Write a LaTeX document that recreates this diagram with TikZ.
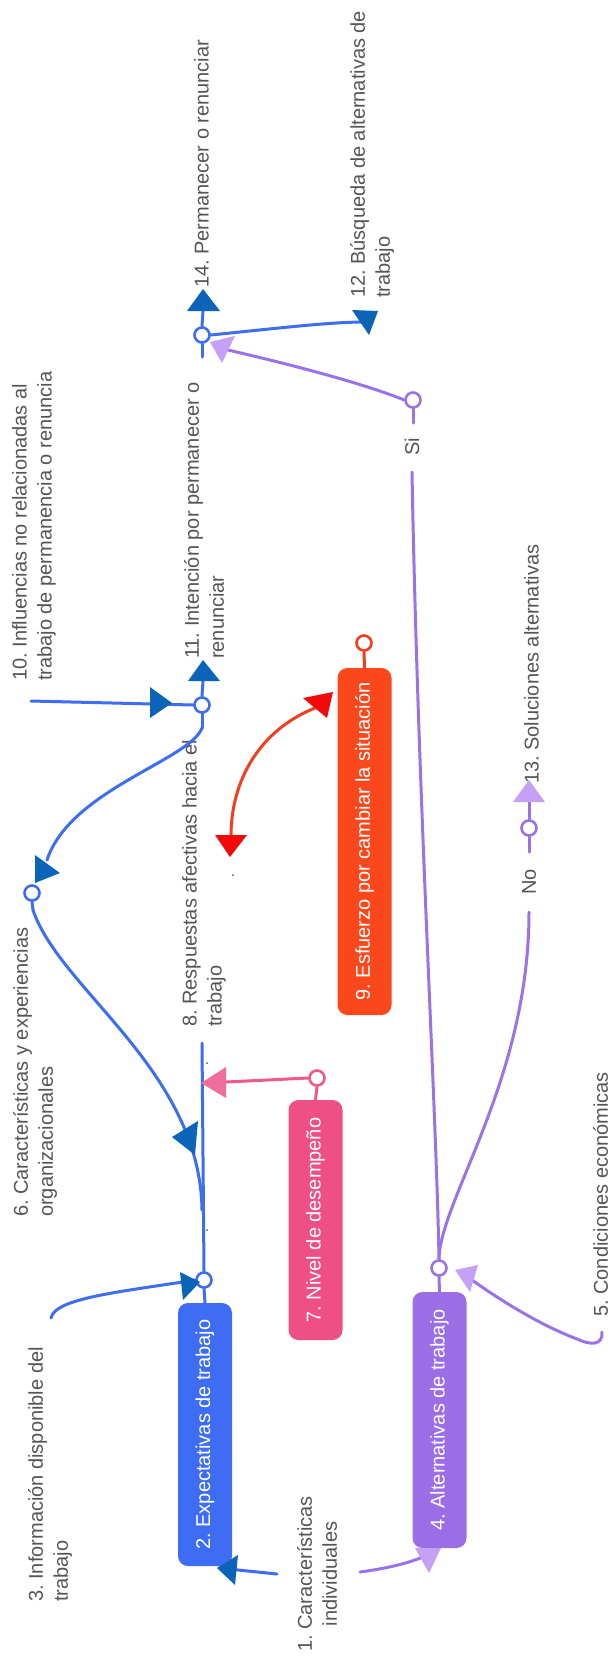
\documentclass[tikz,border=0pt]{standalone}
\usepackage{fontspec}
\setmainfont{Liberation Sans}
\frenchspacing
\definecolor{blueline}{RGB}{61,110,240}
\definecolor{bluetip}{RGB}{12,100,185}
\definecolor{bluebox}{RGB}{62,108,242}
\definecolor{purpline}{RGB}{155,115,232}
\definecolor{purptip}{RGB}{196,160,246}
\definecolor{purpbox}{RGB}{156,110,230}
\definecolor{pinkline}{RGB}{238,88,140}
\definecolor{pinktip}{RGB}{240,110,155}
\definecolor{pinkbox}{RGB}{238,80,134}
\definecolor{redline}{RGB}{240,62,30}
\definecolor{redtip}{RGB}{242,10,10}
\definecolor{redbox}{RGB}{250,72,28}
\definecolor{txtgray}{RGB}{85,85,85}
\begin{document}
\begin{tikzpicture}[x=1pt,y=-1pt,
  lbl/.style={inner sep=0pt, rotate=90, text=txtgray, font=\fontsize{20}{25}\selectfont\frenchspacing, align=left, anchor=north west},
  boxnode/.style={rotate=90, rounded corners=10pt, inner sep=0pt, text=white, font=\fontsize{20}{25}\selectfont\frenchspacing, minimum height=54pt},
  ring/.style={circle, draw, fill=white, line width=2.6pt, minimum size=15pt, inner sep=0pt},
  conn/.style={line width=3pt, line cap=round},
  speck/.style={fill=txtgray, inner sep=0pt, minimum size=2pt, circle}
]
\useasboundingbox (0,0) rectangle (613,1660);
\fill[white] (0,0) rectangle (613,1660);

% ---------- boxes ----------
\node[boxnode, fill=bluebox, minimum width=263pt] (b2) at (205,1434.5) {2. Expectativas de trabajo};
\node[boxnode, fill=purpbox, minimum width=256pt] (b4) at (439.5,1420) {4. Alternativas de trabajo};
\node[boxnode, fill=pinkbox, minimum width=240pt] (b7) at (315.5,1220) {7. Nivel de desempeño};
\node[boxnode, fill=redbox, minimum width=347pt] (b9) at (364.5,841.5) {9. Esfuerzo por cambiar la situación};

% ---------- labels ----------
\node[lbl, align=center, anchor=north] (l1) at (297,1574) {1. Características\\individuales};
\node[lbl] (l3) at (28,1602) {3. Información disponible del\\trabajo};
\node[lbl] (l5) at (593,1317) {5. Condiciones económicas};
\node[lbl] (l6) at (13,1217) {6. Características y experiencias\\organizacionales};
\node[lbl] (l8) at (182,1027) {8. Respuestas afectivas hacia el\\trabajo};
\node[lbl] (l10) at (12,681) {10. Influencias no relacionadas al\\trabajo de permanencia o renuncia};
\node[lbl] (l11) at (184,659) {11. Intención por permanecer o\\renunciar};
\node[lbl] (l12) at (350,298) {12. Búsqueda de alternativas de\\trabajo};
\node[lbl] (l13) at (524,784) {13. Soluciones alternativas};
\node[lbl] (l14) at (194,288) {14. Permanecer o renunciar};
\node[lbl, anchor=center] (si) at (412,447) {Si};
\node[lbl, anchor=center] (no) at (529,882) {No};

% ---------- named points ----------
\coordinate (s1a) at (277,1574);
\coordinate (s1b) at (360,1572);
\coordinate (s3) at (51,1318);
\coordinate (s5) at (602,1332);
\coordinate (s10) at (31,701);
\coordinate (n8) at (202,1043);
\coordinate (j8) at (202,1210);
\coordinate (c6s) at (33,910);
\coordinate (c11s) at (202,728);
\coordinate (c11t) at (203,681);
\coordinate (c14s) at (202,357);
\coordinate (c14t) at (203,311);
\coordinate (e12) at (365,322);
\coordinate (e14) at (228,350);
\coordinate (siS) at (413,423);
\coordinate (siL) at (412,472);
\coordinate (noL) at (529,912);
\coordinate (c13s) at (529,852);
\coordinate (c13t) at (529,802);
\coordinate (e6) at (47,860);
\coordinate (e4) at (425,1556);
\coordinate (e5) at (472,1280);
\coordinate (e8p) at (226,1082);
\coordinate (r1) at (315,708);
\coordinate (r2) at (231,836);

% ---------- rings ----------
\node[ring, draw=blueline] (c2) at (204,1280) {};
\node[ring, draw=blueline] (c6) at (32,893) {};
\node[ring, draw=blueline] (c11) at (202,705) {};
\node[ring, draw=blueline] (c14) at (202,335) {};
\node[ring, draw=purpline] (c4) at (439,1268) {};
\node[ring, draw=purpline] (csi) at (413,400) {};
\node[ring, draw=purpline] (c13) at (529,828) {};
\node[ring, draw=pinkline] (c7) at (317,1078) {};
\node[ring, draw=redline] (c9) at (364,643) {};

% ---------- blue connectors ----------
\begin{scope}[conn, draw=blueline]
\draw (s1a) -- (219,1568);
\draw (s3) .. controls (55,1298) and (120,1292) .. (c2.west);
\draw (c2.south) -- (b2.east);
\draw (c2.north) -- (n8);
\draw (c6.south) -- (c6s);
\draw (c6s) .. controls (60,990) and (200,1070) .. (j8);
\draw (c11.south) -- (c11s);
\draw (c11s) .. controls (190,760) and (70,790) .. (e6);
\draw (s10) -- (c11.west);
\draw (c11.north) -- (c11t);
\draw (c14.south) -- (c14s);
\draw (c14.north) -- (c14t);
\draw (c14.east) .. controls (280,328) and (330,322) .. (e12);
\end{scope}

% ---------- purple connectors ----------
\begin{scope}[conn, draw=purpline]
\draw (s1b) .. controls (390,1568) and (412,1562) .. (e4);
\draw (csi.west) .. controls (360,382) and (280,362) .. (e14);
\draw (csi.south) -- (siS);
\draw (siL) .. controls (418,800) and (436,1100) .. (c4.north);
\draw (c4.north) .. controls (440,1200) and (529,1080) .. (noL);
\draw (c4.south) -- (b4.east);
\draw (c13.south) -- (c13s);
\draw (c13.north) -- (c13t);
\draw (s5) .. controls (603,1346) and (590,1345) .. (577,1339) .. controls (540,1325) and (500,1300) .. (e5);
\end{scope}

% ---------- pink & red connectors ----------
\draw[conn, draw=pinkline] (c7.west) -- (e8p);
\draw[conn, draw=pinkline] (c7.south) -- (b7.east);
\draw[conn, draw=redline] (c9.south) -- (b9.east);
\draw[conn, draw=redline] (r1) .. controls (260,730) and (231,780) .. (r2);

% ---------- arrowheads ----------
\fill[bluetip] (217,1568) -- (238,1555) -- (235,1585) -- cycle;
\fill[purptip] (429,1573) -- (415,1548) -- (441,1548) -- cycle;
\fill[bluetip] (200,1282) -- (180,1272) -- (183,1300) -- cycle;
\fill[bluetip] (172,1137) -- (198,1121) -- (195,1155) -- cycle;
\fill[bluetip] (60,873) -- (35,855) -- (35,883) -- cycle;
\fill[bluetip] (172,703) -- (150,687) -- (150,718) -- cycle;
\fill[bluetip] (203,660) -- (188,681) -- (220,681) -- cycle;
\fill[bluetip] (203,289) -- (187,311) -- (220,311) -- cycle;
\fill[bluetip] (369,335) -- (352,310) -- (378,311) -- cycle;
\fill[purptip] (210,342) -- (235,336) -- (222,363) -- cycle;
\fill[pinktip] (201,1083) -- (226,1067) -- (226,1098) -- cycle;
\fill[redtip] (333,692) -- (303,698) -- (327,718) -- cycle;
\fill[redtip] (230,857) -- (215,835) -- (247,835) -- cycle;
\fill[purptip] (529,780) -- (513,802) -- (545,802) -- cycle;
\fill[purptip] (455,1270) -- (478,1265) -- (470,1292) -- cycle;

% ---------- small specks ----------
\node[speck] (sp1) at (233,875) {};
\node[speck] (sp2) at (207,1063) {};
\node[speck] (sp3) at (207,1230) {};
\end{tikzpicture}
\end{document}
